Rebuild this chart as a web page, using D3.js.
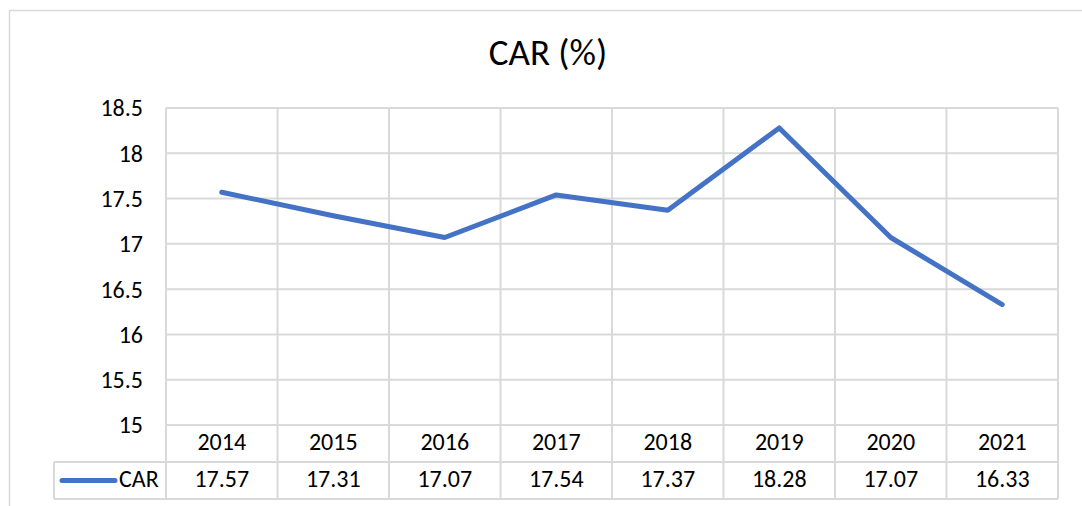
<!DOCTYPE html>
<html>
<head>
<meta charset="utf-8">
<script src="https://cdn.jsdelivr.net/npm/d3@7"></script>
<style>
  html, body { margin: 0; padding: 0; background: #fff; }
  svg { display: block; }
  text { font-family: Carlito, Calibri, Lato, "Open Sans", sans-serif; fill: #000; }
</style>
</head>
<body>
<svg id="chart" width="1082" height="506"></svg>
<script>
const title = "CAR (%)";
const seriesName = "CAR";
const years = ["2014", "2015", "2016", "2017", "2018", "2019", "2020", "2021"];
const carValues = [17.57, 17.31, 17.07, 17.54, 17.37, 18.28, 17.07, 16.33];
const yTicks = [15, 15.5, 16, 16.5, 17, 17.5, 18, 18.5];

const svg = d3.select("#chart");
const W = 1082, H = 506;
const plot = { left: 166, right: 1058, top: 108, bottom: 425 };
const rowH = 37;
const legendLeft = 54;
const gridColor = "#d9d9d9";
const lineColor = "#4472C4";
const fs = "24px";

// Outer chart frame
svg.append("rect")
  .attr("x", 9.5).attr("y", 10.5)
  .attr("width", W + 10).attr("height", H + 10)
  .attr("fill", "none").attr("stroke", gridColor).attr("stroke-width", 1.5);

const x = d3.scaleBand().domain(years).range([plot.left, plot.right]).padding(0);
const y = d3.scaleLinear().domain([15, 18.5]).range([plot.bottom, plot.top]);

// Title
svg.append("text")
  .attr("x", 548).attr("y", 65)
  .attr("text-anchor", "middle")
  .style("font-size", "37px")
  .text(title);

// Horizontal gridlines
svg.append("g").selectAll("line").data(yTicks).join("line")
  .attr("x1", plot.left).attr("x2", plot.right)
  .attr("y1", d => y(d)).attr("y2", d => y(d))
  .attr("stroke", gridColor).attr("stroke-width", 2);

// Y axis labels
const yAxis = d3.axisLeft(y).tickValues(yTicks).tickSize(0).tickPadding(0)
  .tickFormat(d => String(d));
const ya = svg.append("g").attr("transform", `translate(${143},0)`).call(yAxis);
ya.select(".domain").remove();
ya.selectAll("text")
  .style("font-size", fs)
  .style("font-family", "Carlito, Calibri, Lato, sans-serif")
  .attr("fill", "#000")
  .attr("dy", "0.33em");

// Vertical grid / table column boundaries
const bounds = years.map(d => x(d)).concat([plot.right]);
svg.append("g").selectAll("line").data(bounds).join("line")
  .attr("x1", d => d).attr("x2", d => d)
  .attr("y1", plot.top).attr("y2", plot.bottom + 2 * rowH)
  .attr("stroke", gridColor).attr("stroke-width", 2);

// Table horizontal lines
svg.append("line")
  .attr("x1", legendLeft).attr("x2", plot.right)
  .attr("y1", plot.bottom + rowH).attr("y2", plot.bottom + rowH)
  .attr("stroke", gridColor).attr("stroke-width", 2);
svg.append("line")
  .attr("x1", legendLeft).attr("x2", plot.right)
  .attr("y1", plot.bottom + 2 * rowH).attr("y2", plot.bottom + 2 * rowH)
  .attr("stroke", gridColor).attr("stroke-width", 2);
svg.append("line")
  .attr("x1", legendLeft).attr("x2", legendLeft)
  .attr("y1", plot.bottom + rowH).attr("y2", plot.bottom + 2 * rowH)
  .attr("stroke", gridColor).attr("stroke-width", 2);

// Year labels
svg.append("g").selectAll("text").data(years).join("text")
  .attr("x", d => x(d) + x.bandwidth() / 2)
  .attr("y", plot.bottom + 25)
  .attr("text-anchor", "middle")
  .style("font-size", fs)
  .text(d => d);

// Value labels
svg.append("g").selectAll("text").data(carValues).join("text")
  .attr("x", (d, i) => x(years[i]) + x.bandwidth() / 2)
  .attr("y", plot.bottom + rowH + 25)
  .attr("text-anchor", "middle")
  .style("font-size", fs)
  .text(d => d.toFixed(2));

// Legend key
svg.append("line")
  .attr("x1", 62).attr("x2", 115)
  .attr("y1", plot.bottom + rowH + 18.5).attr("y2", plot.bottom + rowH + 18.5)
  .attr("stroke", lineColor).attr("stroke-width", 5).attr("stroke-linecap", "round");
svg.append("text")
  .attr("x", 119).attr("y", plot.bottom + rowH + 25)
  .style("font-size", fs)
  .text(seriesName);

// Series line
const line = d3.line()
  .x((d, i) => x(years[i]) + x.bandwidth() / 2)
  .y(d => y(d));
svg.append("path")
  .datum(carValues)
  .attr("d", line)
  .attr("fill", "none")
  .attr("stroke", lineColor)
  .attr("stroke-width", 5)
  .attr("stroke-linecap", "round")
  .attr("stroke-linejoin", "round");
</script>
</body>
</html>
